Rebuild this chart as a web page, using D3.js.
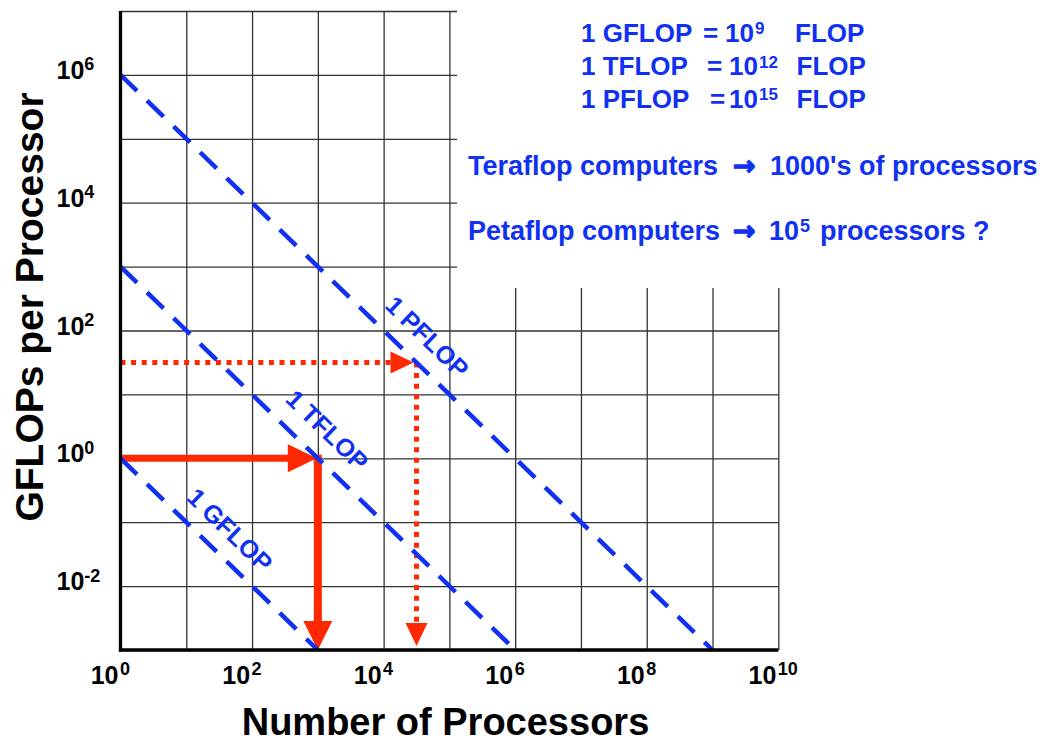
<!DOCTYPE html>
<html>
<head>
<meta charset="utf-8">
<script src="https://cdn.jsdelivr.net/npm/d3@7"></script>
<style>
  body { margin: 0; background: #fff; }
  svg { display: block; font-family: "Liberation Sans", Arial, Helvetica, sans-serif; font-weight: bold; }
</style>
</head>
<body>
<script>
// ---------- data ----------
const gridX = [1e0, 1e1, 1e2, 1e3, 1e4, 1e5, 1e6, 1e7, 1e8, 1e9, 1e10];
const gridY = [1e-3, 1e-2, 1e-1, 1e0, 1e1, 1e2, 1e3, 1e4, 1e5, 1e6, 1e7];
const xTickVals = [1e0, 1e2, 1e4, 1e6, 1e8, 1e10];
const xTickExps = ["0", "2", "4", "6", "8", "10"];
const yTickVals = [1e-2, 1e0, 1e2, 1e4, 1e6];
const yTickExps = ["-2", "0", "2", "4", "6"];
const perfNames = ["1 GFLOP", "1 TFLOP", "1 PFLOP"];
const perfTotals = [1, 1e3, 1e6];            // total GFLOP/s = GFLOPs per proc × processors
const perfLabelAt = [10 ** 1.40, 10 ** 2.86, 10 ** 4.39];
const arrowSolid = [[1, 1], [1e3, 1], [1e3, 1e-3]];
const arrowDotted = [[1, 10 ** 1.5], [10 ** 4.5, 10 ** 1.5], [10 ** 4.5, 1e-3]];

// ---------- setup ----------
const W = 1045, H = 744;
const blue = "#1030F2", red = "#FF2800";
const svg = d3.select("body").append("svg").attr("width", W).attr("height", H);
svg.append("rect").attr("width", W).attr("height", H).attr("fill", "#fff");

const x = d3.scaleLog().domain([1, 1e10]).range([120.5, 778.3]);
const y = d3.scaleLog().domain([1e-3, 1e7]).range([650, 11]);

// ---------- grid ----------
svg.append("g")
  .attr("transform", `translate(0,${y(1e-3)})`)
  .call(d3.axisBottom(x).tickValues(gridX).tickSize(-(y(1e-3) - y(1e7))).tickFormat(""))
  .call(g => g.select(".domain").remove())
  .selectAll("line").attr("stroke", "#333").attr("stroke-width", 1.3);
svg.append("g")
  .attr("transform", `translate(${x(1)},0)`)
  .call(d3.axisLeft(y).tickValues(gridY).tickSize(-(x(1e10) - x(1))).tickFormat(""))
  .call(g => g.select(".domain").remove())
  .selectAll("line").attr("stroke", "#333").attr("stroke-width", 1.3);

// white area behind the notes (upper right)
svg.append("rect").attr("x", 457).attr("y", 0).attr("width", W - 457).attr("height", 288).attr("fill", "#fff");

// ---------- red arrows ----------
function head(tip, dir, len, hw) {
  const [tx, ty] = tip, [dx, dy] = dir;
  const bx = tx - dx * len, by = ty - dy * len;
  const px = -dy, py = dx;
  return `M${tx},${ty}L${bx + px * hw},${by + py * hw}L${bx - px * hw},${by - py * hw}Z`;
}
const P = d => [x(d[0]), y(d[1])];

// solid
{
  const a = P(arrowSolid[0]), b = P(arrowSolid[1]), c = P(arrowSolid[2]);
  svg.append("line").attr("x1", a[0]).attr("y1", a[1]).attr("x2", b[0] - 22).attr("y2", b[1])
    .attr("stroke", red).attr("stroke-width", 7);
  svg.append("path").attr("d", head([b[0] - 1, b[1]], [1, 0], 29, 14)).attr("fill", red);
  svg.append("line").attr("x1", b[0]).attr("y1", b[1] - 3.5).attr("x2", c[0]).attr("y2", c[1] - 24)
    .attr("stroke", red).attr("stroke-width", 8);
  svg.append("path").attr("d", head([c[0], c[1]], [0, 1], 29, 14.5)).attr("fill", red);
}
// dotted
{
  const a = P(arrowDotted[0]), b = P(arrowDotted[1]), c = P(arrowDotted[2]);
  svg.append("line").attr("x1", a[0]).attr("y1", a[1]).attr("x2", b[0] - 26).attr("y2", b[1])
    .attr("stroke", red).attr("stroke-width", 5).attr("stroke-dasharray", "5,5.6");
  svg.append("path").attr("d", head([b[0] - 3, b[1]], [1, 0], 23, 11)).attr("fill", red);
  svg.append("line").attr("x1", b[0]).attr("y1", b[1]).attr("x2", c[0]).attr("y2", c[1] - 26)
    .attr("stroke", red).attr("stroke-width", 5).attr("stroke-dasharray", "5,5.6");
  svg.append("path").attr("d", head([c[0], c[1] - 4], [0, 1], 23, 11)).attr("fill", red);
}

// ---------- blue iso-performance lines ----------
const line = d3.line().x(d => x(d[0])).y(d => y(d[1]));
svg.append("g").selectAll("path").data(perfTotals).join("path")
  .attr("d", T => line([[1, T], [T / 1e-3, 1e-3]]))
  .attr("fill", "none").attr("stroke", blue).attr("stroke-width", 4.5)
  .attr("stroke-dasharray", "23,14");

const ang = Math.atan2(y(0.1) - y(1), x(10) - x(1));
const angDeg = ang * 180 / Math.PI;
const nx = Math.sin(ang), ny = -Math.cos(ang);
const labOff = [25, 27, 26];
svg.append("g").selectAll("text").data(perfNames).join("text")
  .attr("transform", (d, i) => {
    const px = x(perfLabelAt[i]), py = y(perfTotals[i] / perfLabelAt[i]);
    return `translate(${px + nx * labOff[i]},${py + ny * labOff[i]}) rotate(${angDeg})`;
  })
  .attr("text-anchor", "middle").attr("dy", "0.36em")
  .attr("font-size", 25).attr("fill", blue).text(d => d);

// ---------- axes (thick) ----------
svg.append("line").attr("x1", x(1)).attr("x2", x(1)).attr("y1", y(1e7)).attr("y2", y(1e-3) + 1.6)
  .attr("stroke", "#000").attr("stroke-width", 3.3);
svg.append("line").attr("x1", x(1) - 1.6).attr("x2", x(1e10)).attr("y1", y(1e-3)).attr("y2", y(1e-3))
  .attr("stroke", "#000").attr("stroke-width", 3.3);

// ---------- tick labels ----------
const xl = svg.append("g").selectAll("text").data(xTickVals).join("text")
  .attr("y", 683.5).attr("font-size", 25).attr("fill", "#000");
xl.append("tspan").attr("x", d => x(d) - 2).attr("text-anchor", "end").text("10");
xl.append("tspan").attr("x", d => x(d) - 0.5).attr("text-anchor", "start").attr("dy", -8.5)
  .attr("font-size", 18).text((d, i) => xTickExps[i]);

const yl = svg.append("g").selectAll("text").data(yTickVals).join("text")
  .attr("x", 56.5).attr("y", d => y(d) + 4).attr("font-size", 25).attr("fill", "#000");
yl.append("tspan").text("10");
yl.append("tspan").attr("dy", -8.5).attr("font-size", 18).text((d, i) => yTickExps[i]);

// ---------- axis titles ----------
svg.append("text").attr("x", 445.5).attr("y", 735).attr("text-anchor", "middle")
  .attr("font-size", 38).attr("fill", "#000").text("Number of Processors");
svg.append("text").attr("transform", "translate(43,307) rotate(-90)").attr("text-anchor", "middle")
  .attr("font-size", 39).attr("fill", "#000").text("GFLOPs per Processor");

// ---------- notes ----------
const notes = svg.append("g").attr("fill", blue);
function defLine(yb, name, eqX, tenX, sup, flopX) {
  const t = notes.append("text").attr("y", yb).attr("font-size", 26);
  t.append("tspan").attr("x", 581).text(name);
  t.append("tspan").attr("x", eqX).text("=");
  t.append("tspan").attr("x", tenX).text("10");
  t.append("tspan").attr("dx", 1).attr("dy", -7.5).attr("font-size", 17).text(sup);
  t.append("tspan").attr("x", flopX).attr("dy", 7.5).text("FLOP");
}
defLine(41.7, "1 GFLOP", 703, 725, "9", 795);
defLine(75, "1 TFLOP", 707, 729, "12", 796.5);
defLine(107.5, "1 PFLOP", 710, 729, "15", 796.5);

const t1 = notes.append("text").attr("y", 175).attr("font-size", 27);
t1.append("tspan").attr("x", 468).text("Teraflop computers");
t1.append("tspan").attr("x", 733).style("font-family", "DejaVu Sans")
  .attr("stroke", blue).attr("stroke-width", 1.2).text("→");
t1.append("tspan").attr("x", 770).attr("stroke", "none").text("1000's of processors");

const t2 = notes.append("text").attr("y", 240).attr("font-size", 27);
t2.append("tspan").attr("x", 468).text("Petaflop computers");
t2.append("tspan").attr("x", 733).style("font-family", "DejaVu Sans")
  .attr("stroke", blue).attr("stroke-width", 1.2).text("→");
t2.append("tspan").attr("x", 769).attr("stroke", "none").text("10");
t2.append("tspan").attr("dx", 1).attr("dy", -8).attr("font-size", 18).text("5");
t2.append("tspan").attr("x", 820).attr("dy", 8).text("processors ?");
</script>
</body>
</html>
